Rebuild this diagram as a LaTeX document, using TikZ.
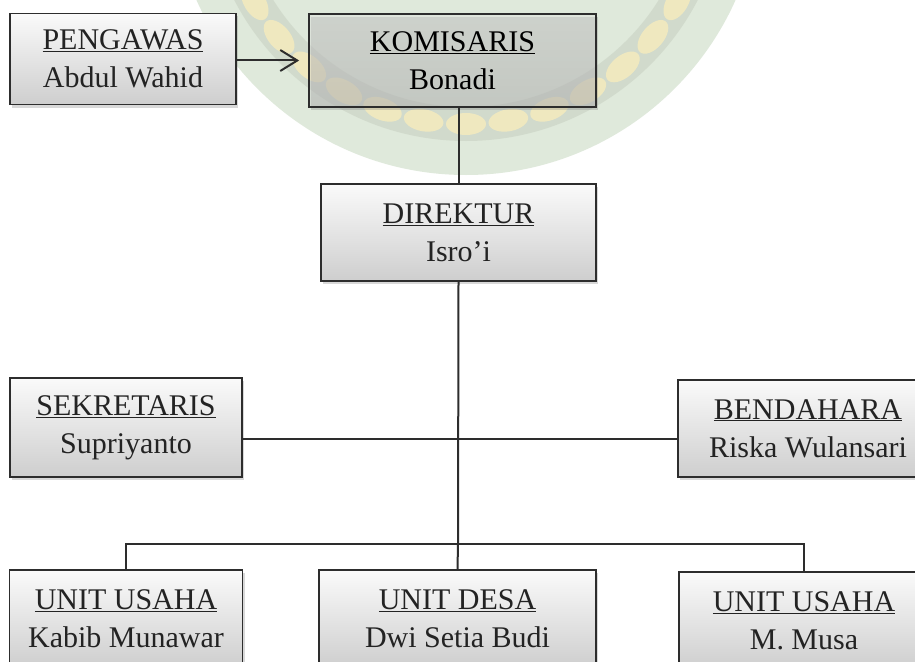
\documentclass[tikz,border=0pt]{standalone}
\usepackage{fontspec}
\setmainfont{Liberation Serif}
\usetikzlibrary{arrows.meta, shadows}
\definecolor{myline}{RGB}{45,45,45}
\definecolor{mytext}{RGB}{35,35,35}
\definecolor{mytop}{RGB}{250,250,250}
\definecolor{mybot}{RGB}{206,206,206}
\definecolor{wmgreen}{RGB}{223,233,219}
\definecolor{wmring}{RGB}{196,205,190}
\definecolor{wmleaf}{RGB}{243,234,190}
\tikzset{
  orgbox/.style={rectangle, draw=myline, line width=1.7pt,
    top color=mytop, bottom color=mybot, text=mytext,
    align=center, inner sep=0pt, font=\fontsize{30}{38}\selectfont,
    drop shadow={shadow xshift=2pt, shadow yshift=-3pt, opacity=0.3}},
  glassbox/.style={orgbox, top color=gray!25, bottom color=gray!45,
    fill opacity=0.4, text opacity=1, text=black},
  link/.style={line width=2pt, draw=myline},
  arrow/.style={link, -{Straight Barb[length=17pt, width=21pt]}},
  leaf/.style={fill=wmleaf, fill opacity=0.9}
}
\begin{document}
\begin{tikzpicture}[x=1pt, y=-1pt]
  \useasboundingbox (0,0) rectangle (915,661);
  \clip (0,0) rectangle (915,661);
  \fill[white] (0,0) rectangle (915,661);

  % Watermark behind the chart
  \begin{scope}[shift={(466,-120)}]
    \fill[wmgreen] (0,0) circle (295);
    \draw[wmring, line width=34pt, opacity=0.5] (0,0) circle (244);
    \foreach \a in {20,30,...,160}
      \fill[leaf, shift={(\a:244)}, rotate=90-\a] (0,0) ellipse [x radius=20, y radius=11];
  \end{scope}

  % Top row
  \node[orgbox, minimum width=226pt, minimum height=91pt] (pengawas) at (123,59) {\underline{PENGAWAS}\\Abdul Wahid};
  \node[glassbox, minimum width=287pt, minimum height=93pt] (komisaris) at (452.5,60.5) {\underline{KOMISARIS}\\Bonadi};

  % Direktur
  \node[orgbox, minimum width=275pt, minimum height=97pt] (direktur) at (458.5,232.5) {\underline{DIREKTUR}\\Isro’i};

  % Staff
  \node[orgbox, minimum width=232pt, minimum height=99pt] (sekretaris) at (126,427.5) {\underline{SEKRETARIS}\\Supriyanto};
  \node[orgbox, minimum width=260pt, minimum height=97pt] (bendahara) at (808,428.5) {\underline{BENDAHARA}\\Riska Wulansari};

  % Units
  \node[orgbox, minimum width=233pt, minimum height=98pt] (usahaA) at (126,619) {\underline{UNIT USAHA}\\Kabib Munawar};
  \node[orgbox, minimum width=277pt, minimum height=98pt] (desa) at (457.5,619) {\underline{UNIT DESA}\\Dwi Setia Budi};
  \node[orgbox, minimum width=250pt, minimum height=98pt] (usahaB) at (804,621) {\underline{UNIT USAHA}\\M. Musa};

  \coordinate (mid) at (458,439);
  \coordinate (bus) at (458,544);

  % Connectors
  \draw[arrow, shorten >=9pt] (pengawas.east |- komisaris.west) -- (komisaris.west);
  \draw[link] (komisaris.south -| direktur.north) -- (direktur.north);
  \draw[link] (direktur.south) -- (bus);
  \draw[link] (sekretaris.east |- mid) -- (bendahara.west |- mid);
  \draw[link] (usahaA.north) -- (usahaA.north |- bus) -- (usahaB.north |- bus) -- (usahaB.north);
  \draw[link] (bus) -- (desa.north);
\end{tikzpicture}
\end{document}
